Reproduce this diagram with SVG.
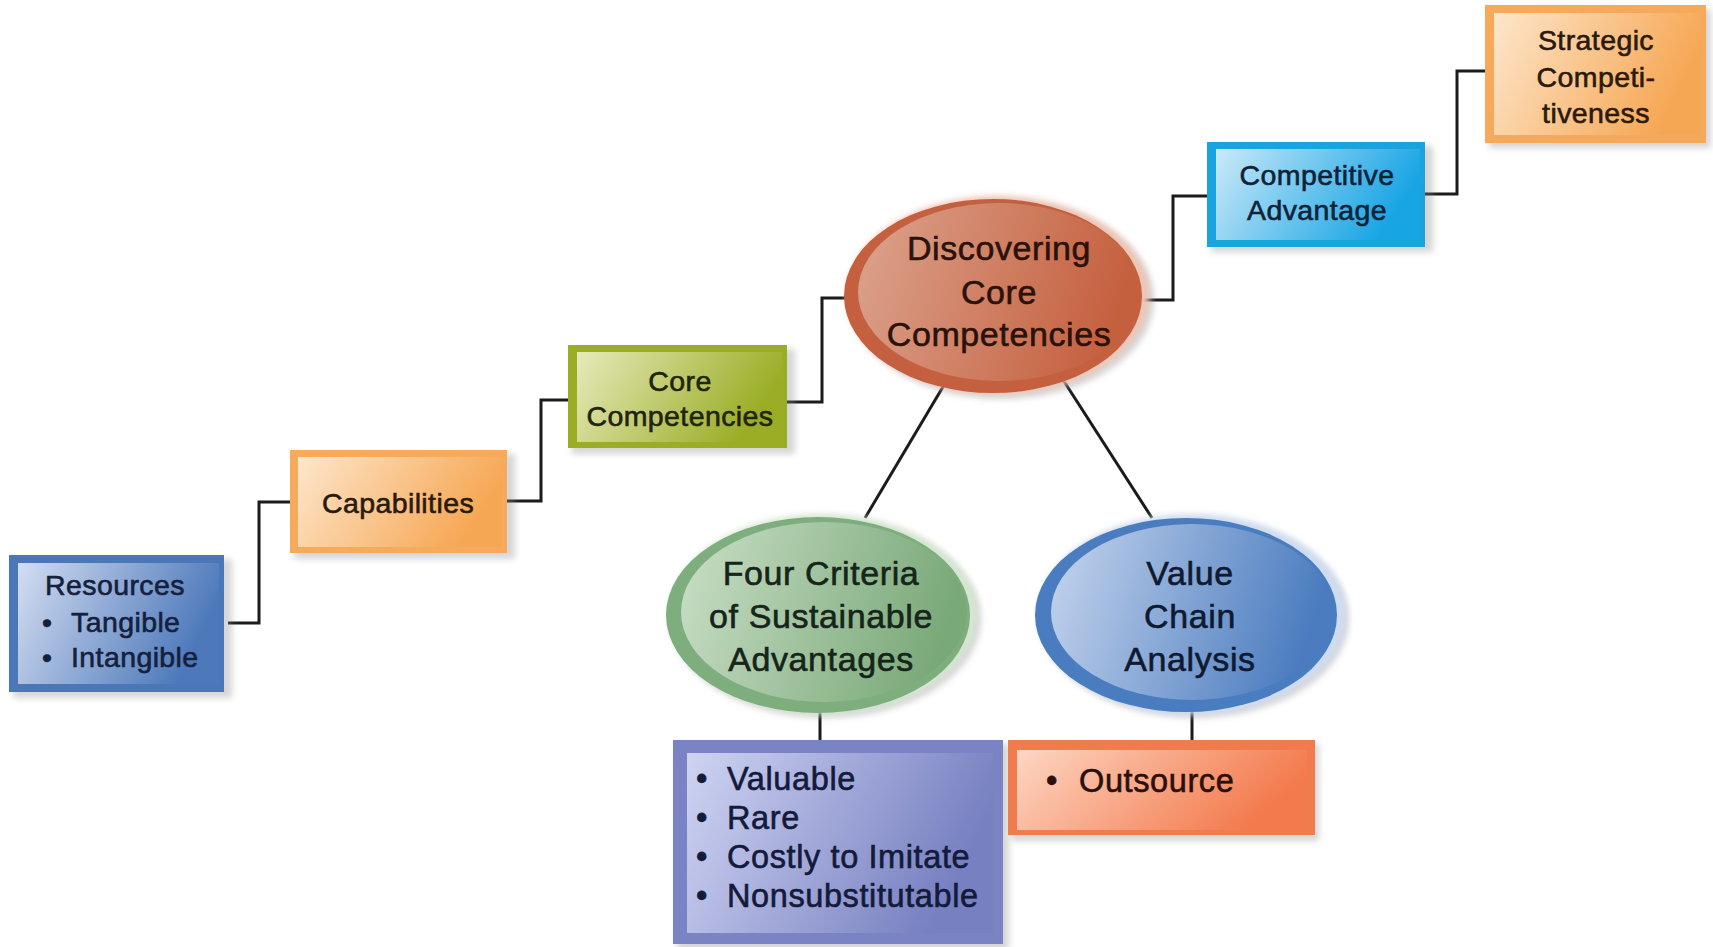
<svg xmlns="http://www.w3.org/2000/svg" width="1713" height="947" viewBox="0 0 1713 947">
  <style>
    .lbl { font-family: "Liberation Sans", Arial, sans-serif; stroke-width: 0.6; paint-order: stroke; }
    .box-t { font-size: 28.5px; letter-spacing: 0.4px; }
    .ell-t { font-size: 34px; letter-spacing: 0.6px; text-anchor: middle; }
    .mid { text-anchor: middle; }
    .list-t { font-size: 32.5px; letter-spacing: 0.6px; }
    .conn { fill: none; stroke: #1b1b1b; stroke-width: 3; }
    .shadow { fill: #8a8a8a; opacity: 0.35; filter: url(#soft); }
    .halo { filter: url(#soft); }
  </style>
  <defs>
    <filter id="soft" x="-10%" y="-10%" width="130%" height="130%">
      <feGaussianBlur stdDeviation="3"/>
    </filter>
    <linearGradient id="gBlue" x1="0" y1="0" x2="1" y2="0.3">
      <stop offset="0" stop-color="#d3ddf1"/>
      <stop offset="1" stop-color="#4d79ba"/>
    </linearGradient>
    <linearGradient id="gOrange" x1="0" y1="0" x2="1" y2="0.3">
      <stop offset="0" stop-color="#fde6cb"/>
      <stop offset="1" stop-color="#f6a754"/>
    </linearGradient>
    <linearGradient id="gOlive" x1="0" y1="0" x2="1" y2="0.3">
      <stop offset="0" stop-color="#e6eabb"/>
      <stop offset="1" stop-color="#9aad25"/>
    </linearGradient>
    <linearGradient id="gCyan" x1="0" y1="0" x2="1" y2="0.3">
      <stop offset="0" stop-color="#cbe9f9"/>
      <stop offset="1" stop-color="#18a5e4"/>
    </linearGradient>
    <linearGradient id="gLav" x1="0" y1="0" x2="1" y2="0.3">
      <stop offset="0" stop-color="#cfd4f2"/>
      <stop offset="1" stop-color="#7780c1"/>
    </linearGradient>
    <linearGradient id="gCoral" x1="0" y1="0" x2="1" y2="0.3">
      <stop offset="0" stop-color="#fdd6c3"/>
      <stop offset="1" stop-color="#f37a4d"/>
    </linearGradient>
    <linearGradient id="gRust" x1="0" y1="0" x2="1" y2="0.2">
      <stop offset="0" stop-color="#dca48e"/>
      <stop offset="1" stop-color="#c5603f"/>
    </linearGradient>
    <linearGradient id="gSage" x1="0" y1="0" x2="1" y2="0.2">
      <stop offset="0" stop-color="#cadfc7"/>
      <stop offset="1" stop-color="#7aa979"/>
    </linearGradient>
    <linearGradient id="gSteel" x1="0" y1="0" x2="1" y2="0.2">
      <stop offset="0" stop-color="#c6d5ee"/>
      <stop offset="1" stop-color="#4b7cbf"/>
    </linearGradient>
  </defs>

  <rect width="1713" height="947" fill="#ffffff"/>

  <!-- connectors -->
  <g id="connectors">
    <path class="conn" d="M228,623 H259 V502 H292"/>
    <path class="conn" d="M506,501 H541 V400 H570"/>
    <path class="conn" d="M786,402 H822 V298 H860"/>
    <path class="conn" d="M1133,300 H1173 V196 H1209"/>
    <path class="conn" d="M1424,194 H1457 V71 H1487"/>
    <path class="conn" d="M950,375 L865,518"/>
    <path class="conn" d="M1058,372 L1152,518"/>
    <path class="conn" d="M820,710 V742"/>
    <path class="conn" d="M1192,710 V742"/>
  </g>

  <!-- Resources -->
  <g id="resources">
    <rect class="shadow" x="13" y="559" width="219" height="139"/>
    <rect x="9" y="555" width="215" height="137" fill="#4b77b9"/>
    <rect x="18" y="563" width="201" height="121" fill="url(#gBlue)"/>
    <g class="lbl box-t" fill="#15203c" stroke="#15203c">
      <text x="45" y="595">Resources</text>
      <text x="42" y="632">•</text>
      <text x="71" y="632">Tangible</text>
      <text x="42" y="667">•</text>
      <text x="71" y="667">Intangible</text>
    </g>
  </g>

  <!-- Capabilities -->
  <g id="capabilities">
    <rect class="shadow" x="294" y="454" width="221" height="105"/>
    <rect x="290" y="450" width="217" height="103" fill="#f6ab5c"/>
    <rect x="298" y="457" width="204" height="90" fill="url(#gOrange)"/>
    <text class="lbl box-t mid" x="398" y="513" fill="#2a1a0e" stroke="#2a1a0e">Capabilities</text>
  </g>

  <!-- Core Competencies -->
  <g id="core-competencies">
    <rect class="shadow" x="572" y="349" width="223" height="105"/>
    <rect x="568" y="345" width="219" height="103" fill="#9aad24"/>
    <rect x="577" y="352" width="205" height="90" fill="url(#gOlive)"/>
    <g class="lbl box-t mid" fill="#1f240a" stroke="#1f240a">
      <text x="680" y="391">Core</text>
      <text x="680" y="426">Competencies</text>
    </g>
  </g>

  <!-- Discovering Core Competencies -->
  <g id="discovering">
    <ellipse class="shadow" cx="1002" cy="300" rx="152" ry="99"/>
    <ellipse class="halo" cx="998" cy="295" rx="151" ry="99" fill="#eec4b4"/>
    <ellipse cx="993" cy="296" rx="149" ry="97" fill="#c45f3f"/>
    <ellipse cx="999" cy="292" rx="141" ry="89" fill="url(#gRust)"/>
    <g class="lbl ell-t" fill="#2a120a" stroke="#2a120a">
      <text x="999" y="260">Discovering</text>
      <text x="999" y="304">Core</text>
      <text x="999" y="346">Competencies</text>
    </g>
  </g>

  <!-- Competitive Advantage -->
  <g id="competitive-advantage">
    <rect class="shadow" x="1211" y="146" width="222" height="106"/>
    <rect x="1207" y="142" width="218" height="105" fill="#19a3df"/>
    <rect x="1216" y="149" width="204" height="91" fill="url(#gCyan)"/>
    <g class="lbl box-t mid" fill="#0f2238" stroke="#0f2238">
      <text x="1317" y="185">Competitive</text>
      <text x="1317" y="220">Advantage</text>
    </g>
  </g>

  <!-- Strategic Competitiveness -->
  <g id="strategic-competitiveness">
    <rect class="shadow" x="1489" y="9" width="222" height="139"/>
    <rect x="1485" y="5" width="221" height="138" fill="#f6a95a"/>
    <rect x="1494" y="13" width="207" height="122" fill="url(#gOrange)"/>
    <g class="lbl box-t mid" fill="#2a1a0e" stroke="#2a1a0e">
      <text x="1596" y="50">Strategic</text>
      <text x="1596" y="87">Competi-</text>
      <text x="1596" y="123">tiveness</text>
    </g>
  </g>

  <!-- Four Criteria of Sustainable Advantages -->
  <g id="four-criteria">
    <ellipse class="shadow" cx="826" cy="619" rx="155" ry="99"/>
    <ellipse class="halo" cx="823" cy="614" rx="154" ry="100" fill="#d5e6d2"/>
    <ellipse cx="818" cy="615" rx="152" ry="98" fill="#7eae7d"/>
    <ellipse cx="824" cy="612" rx="143" ry="90" fill="url(#gSage)"/>
    <g class="lbl ell-t" fill="#16241a" stroke="#16241a">
      <text x="821" y="585">Four Criteria</text>
      <text x="821" y="628">of Sustainable</text>
      <text x="821" y="671">Advantages</text>
    </g>
  </g>

  <!-- Value Chain Analysis -->
  <g id="value-chain">
    <ellipse class="shadow" cx="1195" cy="619" rx="154" ry="99"/>
    <ellipse class="halo" cx="1192" cy="614" rx="154" ry="100" fill="#cfdcf0"/>
    <ellipse cx="1186" cy="615" rx="151" ry="97" fill="#4a7cc0"/>
    <ellipse cx="1192" cy="612" rx="141" ry="88" fill="url(#gSteel)"/>
    <g class="lbl ell-t" fill="#0f1a30" stroke="#0f1a30">
      <text x="1190" y="585">Value</text>
      <text x="1190" y="628">Chain</text>
      <text x="1190" y="671">Analysis</text>
    </g>
  </g>

  <!-- Criteria list -->
  <g id="criteria-list">
    <rect class="shadow" x="677" y="744" width="332" height="206"/>
    <rect x="673" y="740" width="330" height="204" fill="#7a83c3"/>
    <rect x="687" y="753" width="306" height="180" fill="url(#gLav)"/>
    <g class="lbl list-t" fill="#141a3a" stroke="#141a3a">
      <text x="696" y="790">•</text>
      <text x="727" y="790">Valuable</text>
      <text x="696" y="829">•</text>
      <text x="727" y="829">Rare</text>
      <text x="696" y="868">•</text>
      <text x="727" y="868">Costly to Imitate</text>
      <text x="696" y="907">•</text>
      <text x="727" y="907">Nonsubstitutable</text>
    </g>
  </g>

  <!-- Outsource -->
  <g id="outsource">
    <rect class="shadow" x="1012" y="744" width="307" height="97"/>
    <rect x="1008" y="740" width="307" height="95" fill="#f07b4f"/>
    <rect x="1017" y="750" width="290" height="80" fill="url(#gCoral)"/>
    <g class="lbl list-t" fill="#2a100a" stroke="#2a100a">
      <text x="1046" y="792">•</text>
      <text x="1079" y="792">Outsource</text>
    </g>
  </g>
</svg>
